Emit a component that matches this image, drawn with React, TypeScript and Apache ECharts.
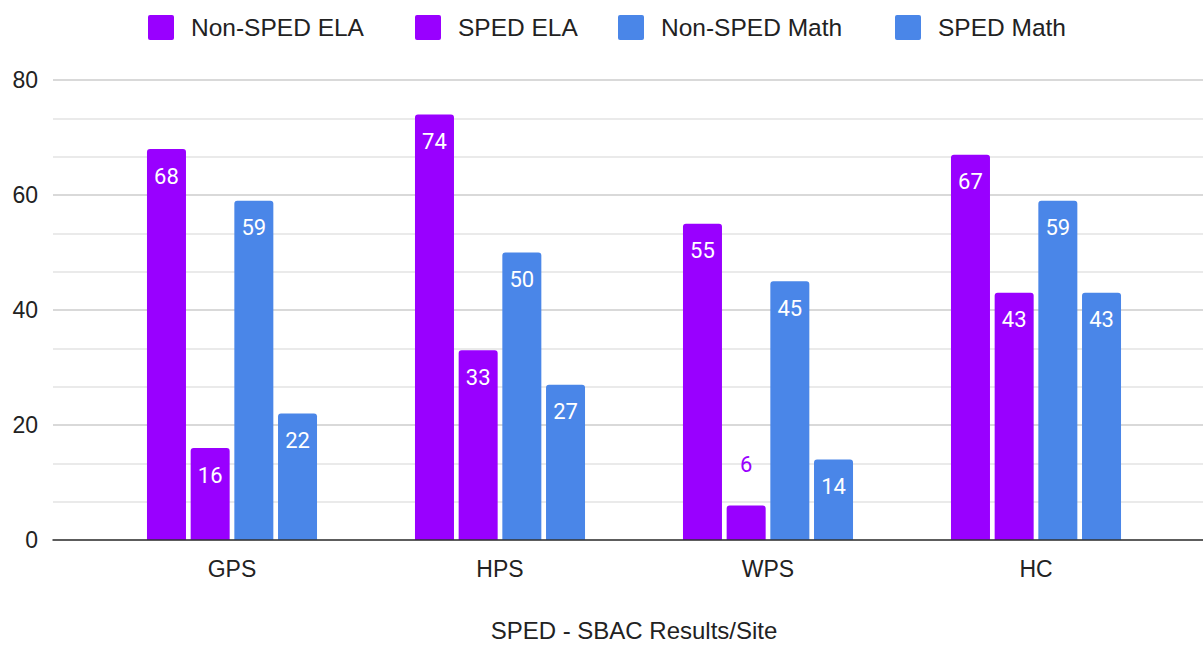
import React, { useEffect, useRef } from "react";
import * as echarts from "echarts";

const categories = ["GPS", "HPS", "WPS", "HC"];
const seriesNames = ["Non-SPED ELA", "SPED ELA", "Non-SPED Math", "SPED Math"];
const nonSpedEla = [68, 74, 55, 67];
const spedEla = [16, 33, 6, 43];
const nonSpedMath = [59, 50, 45, 59];
const spedMath = [22, 27, 14, 43];
const yTicks = [0, 20, 40, 60, 80];

const PURPLE = "#9900ff";
const BLUE = "#4a86e8";
const AXIS_FONT = "'Liberation Sans', Arial, sans-serif";
const LABEL_FONT = "Roboto, 'Noto Sans', sans-serif";
const LEGEND_ICON =
  "path://M2,0H24Q26,0 26,2V23Q26,25 24,25H2Q0,25 0,23V2Q0,0 2,0Z";

export default function App() {
  const ref = useRef<HTMLDivElement>(null);

  useEffect(() => {
    if (!ref.current) return;
    const chart = echarts.init(ref.current, undefined, { renderer: "svg" });

    const colors = [PURPLE, PURPLE, BLUE, BLUE];
    const values = [nonSpedEla, spedEla, nonSpedMath, spedMath];

    const legendLefts = [143, 410, 613, 890];
    const legends = seriesNames.map((n, i) => ({
      data: [n],
      left: legendLefts[i],
      top: 10,
      itemWidth: 26,
      itemHeight: 25,
      icon: LEGEND_ICON,
      textStyle: {
        fontFamily: AXIS_FONT,
        fontSize: 24.5,
        color: "#222",
        padding: [0, 0, 0, 12],
      },
    }));

    const makeData = (arr: number[], color: string) =>
      arr.map((v) => {
        const small = v < 10;
        return {
          value: v,
          label: small
            ? { position: "top", distance: 30, color }
            : { position: "insideTop", distance: 16, color: "#fff" },
        };
      });

    const option = {
      animation: false,
      backgroundColor: "#ffffff",
      legend: legends,
      grid: [
        {
          left: 53,
          right: 0,
          top: 80,
          bottom: 107,
          containLabel: false,
          outerBoundsMode: "none",
        },
        {
          left: 98,
          right: 33,
          top: 80,
          bottom: 107,
          containLabel: false,
          outerBoundsMode: "none",
        },
      ],
      xAxis: [
        {
          type: "category",
          gridIndex: 0,
          data: ["a"],
          axisLine: { show: true, lineStyle: { color: "#333", width: 1.5 } },
          axisTick: { show: false },
          axisLabel: { show: false },
          z: 10,
        },
        {
          type: "category",
          gridIndex: 1,
          data: categories,
          axisLine: { show: false },
          axisTick: { show: false },
          axisLabel: {
            fontFamily: AXIS_FONT,
            fontSize: 23,
            color: "#222",
            margin: 17,
          },
          name: "SPED - SBAC Results/Site",
          nameLocation: "middle",
          nameGap: 78,
          nameTextStyle: {
            fontFamily: AXIS_FONT,
            fontSize: 24,
            color: "#222",
          },
        },
      ],
      yAxis: [
        {
          type: "value",
          gridIndex: 0,
          min: yTicks[0],
          max: yTicks[yTicks.length - 1],
          interval: 20,
          axisLine: { show: false },
          axisTick: { show: false },
          axisLabel: {
            fontFamily: AXIS_FONT,
            fontSize: 23,
            color: "#222",
            margin: 15,
          },
          splitLine: { show: true, lineStyle: { color: "#cccccc", width: 1.5 } },
          minorTick: { show: false, splitNumber: 3 },
          minorSplitLine: { show: true, lineStyle: { color: "#e3e3e3", width: 1.5 } },
        },
        {
          type: "value",
          gridIndex: 1,
          min: yTicks[0],
          max: yTicks[yTicks.length - 1],
          interval: 20,
          show: false,
          splitLine: { show: false },
        },
      ],
      series: values.map((arr, i) => ({
        name: seriesNames[i],
        type: "bar",
        xAxisIndex: 1,
        yAxisIndex: 1,
        barWidth: 39,
        barGap: "12%",
        itemStyle: { color: colors[i], borderRadius: [3, 3, 0, 0] },
        label: {
          show: true,
          fontFamily: LABEL_FONT,
          fontSize: 22,
        },
        data: makeData(arr, colors[i]),
      })),
    };

    chart.setOption(option as any);
    return () => chart.dispose();
  }, []);

  return (
    <div
      ref={ref}
      style={{ width: 1203, height: 647, position: "absolute", left: 0, top: 0 }}
    />
  );
}
